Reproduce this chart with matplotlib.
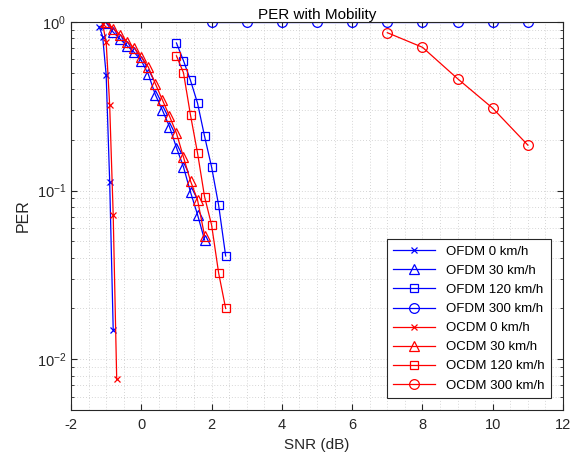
import numpy as np
import matplotlib
matplotlib.use('Agg')
import matplotlib.pyplot as plt
from matplotlib.ticker import MultipleLocator, LogLocator, NullFormatter

plt.rcParams['font.family'] = ['Liberation Sans', 'DejaVu Sans']
plt.rcParams['mathtext.default'] = 'regular'
plt.rcParams['axes.unicode_minus'] = False

# OFDM (blue)
snr_ofdm0 = [-1.2, -1.1, -1.0, -0.9, -0.8]
per_ofdm0 = [0.94, 0.82, 0.485, 0.113, 0.015]
snr_ofdm30 = [-1.0, -0.8, -0.6, -0.4, -0.2, 0.0, 0.2, 0.4, 0.6, 0.8, 1.0, 1.2, 1.4, 1.6, 1.8]
per_ofdm30 = [0.99, 0.87, 0.79, 0.72, 0.66, 0.59, 0.49, 0.37, 0.30, 0.24, 0.18, 0.138, 0.098, 0.072, 0.051]
snr_ofdm120 = [1.0, 1.2, 1.4, 1.6, 1.8, 2.0, 2.2, 2.4]
per_ofdm120 = [0.75, 0.59, 0.45, 0.33, 0.21, 0.138, 0.082, 0.041]
snr_ofdm300 = [2, 3, 4, 5, 6, 7, 8, 9, 10, 11]
per_ofdm300 = [1, 1, 1, 1, 1, 1, 1, 1, 1, 1]

# OCDM (red)
snr_ocdm0 = [-1.1, -1.0, -0.9, -0.8, -0.7]
per_ocdm0 = [0.97, 0.76, 0.32, 0.072, 0.0076]
snr_ocdm30 = [-1.0, -0.8, -0.6, -0.4, -0.2, 0.0, 0.2, 0.4, 0.6, 0.8, 1.0, 1.2, 1.4, 1.6, 1.8]
per_ocdm30 = [1.0, 0.91, 0.84, 0.76, 0.70, 0.62, 0.54, 0.43, 0.345, 0.277, 0.219, 0.158, 0.114, 0.088, 0.054]
snr_ocdm120 = [1.0, 1.2, 1.4, 1.6, 1.8, 2.0, 2.2, 2.4]
per_ocdm120 = [0.63, 0.50, 0.28, 0.167, 0.092, 0.0625, 0.0325, 0.020]
snr_ocdm300 = [7, 8, 9, 10, 11]
per_ocdm300 = [0.864, 0.708, 0.461, 0.308, 0.186]

fig = plt.figure(figsize=(5.86, 4.61), dpi=100)
ax = fig.add_axes([0.1212, 0.1106, 0.8396, 0.8417])

lw = 0.9
ax.semilogy(snr_ofdm0, per_ofdm0, 'b-x', lw=lw, ms=5, mew=0.9, label='OFDM 0 km/h')
ax.semilogy(snr_ofdm30, per_ofdm30, 'b-^', lw=lw, ms=7, mfc='none', mew=0.9, label='OFDM 30 km/h')
ax.semilogy(snr_ofdm120, per_ofdm120, 'b-s', lw=lw, ms=6, mfc='none', mew=0.9, label='OFDM 120 km/h')
ax.semilogy(snr_ofdm300, per_ofdm300, 'b-o', lw=lw, ms=7, mfc='none', mew=0.9, label='OFDM 300 km/h')
ax.semilogy(snr_ocdm0, per_ocdm0, 'r-x', lw=lw, ms=5, mew=0.9, label='OCDM 0 km/h')
ax.semilogy(snr_ocdm30, per_ocdm30, 'r-^', lw=lw, ms=7, mfc='none', mew=0.9, label='OCDM 30 km/h')
ax.semilogy(snr_ocdm120, per_ocdm120, 'r-s', lw=lw, ms=6, mfc='none', mew=0.9, label='OCDM 120 km/h')
ax.semilogy(snr_ocdm300, per_ocdm300, 'r-o', lw=lw, ms=7, mfc='none', mew=0.9, label='OCDM 300 km/h')

ax.set_xlim(-2, 12)
ax.set_ylim(0.005, 1)
ax.xaxis.set_major_locator(MultipleLocator(2))
ax.xaxis.set_minor_locator(MultipleLocator(0.5))
ax.yaxis.set_major_locator(LogLocator(base=10))
ax.yaxis.set_minor_locator(LogLocator(base=10, subs=np.arange(2, 10)))
ax.yaxis.set_minor_formatter(NullFormatter())

ax.grid(True, which='both', ls=(0, (1, 2.5)), color='#c8c8c8', lw=0.6)
ax.set_axisbelow(True)
ax.tick_params(which='both', direction='in', top=True, right=True, labelsize=10.5,
               color='#262626', labelcolor='#262626')
ax.tick_params(axis='x', which='minor', length=0)
ax.tick_params(which='major', length=4)
ax.tick_params(axis='y', which='minor', length=2.5)
ax.tick_params(axis='x', pad=6)
for s in ax.spines.values():
    s.set_color('#262626')
    s.set_linewidth(0.8)

ax.set_xlabel('SNR (dB)', fontsize=11, color='#262626')
ax.set_ylabel('PER', fontsize=11.5, color='#262626')
ax.set_title('PER with Mobility', fontsize=11, pad=2)

leg = ax.legend(loc='lower right', fontsize=9.5, fancybox=False, edgecolor='#262626',
                framealpha=1, borderaxespad=0.9, handlelength=3.2, labelspacing=0.52,
                borderpad=0.5)
leg.get_frame().set_linewidth(0.8)

fig.savefig('out.png', dpi=100)
